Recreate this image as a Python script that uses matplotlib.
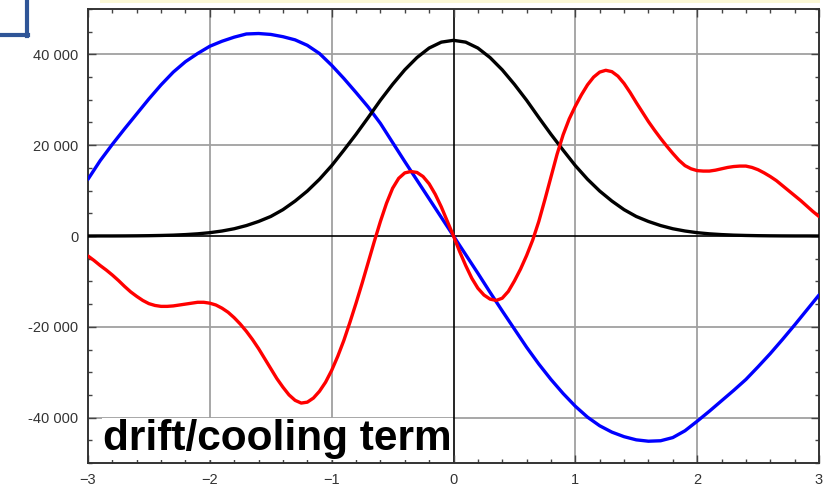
import numpy as np
import matplotlib
matplotlib.use("Agg")
import matplotlib.pyplot as plt
from matplotlib.lines import Line2D
from matplotlib.patches import Rectangle
from matplotlib.ticker import MultipleLocator, FixedLocator

# sample positions along x
xs = np.round(np.arange(-3.0, 3.001, 0.1), 1)
xs_fine = np.round(np.arange(-3.0, 3.001, 0.05), 2)

# thermal density (black), thousands
density = [0.0, 0.01, 0.01, 0.02, 0.04, 0.07, 0.12, 0.19, 0.31, 0.48,
           0.73, 1.1, 1.6, 2.3, 3.2, 4.3, 5.8, 7.7, 9.9, 12.5,
           15.5, 18.9, 22.4, 26.1, 29.9, 33.4, 36.6, 39.3, 41.4, 42.7,
           43.1,
           42.7, 41.4, 39.3, 36.6, 33.4, 29.9, 26.1, 22.4, 18.9, 15.5,
           12.5, 9.9, 7.7, 5.8, 4.3, 3.2, 2.3, 1.6, 1.1, 0.73,
           0.48, 0.31, 0.19, 0.12, 0.07, 0.04, 0.02, 0.01, 0.01, 0.0]

# restoring force (blue), thousands
force = [12.5, 16.6, 20.2, 23.6, 26.9, 30.2, 33.3, 36.1, 38.4, 40.2,
         41.8, 42.9, 43.8, 44.5, 44.6, 44.4, 43.9, 43.2, 42.0, 40.2,
         37.6, 34.7, 31.6, 28.4, 24.8, 20.6, 16.4, 12.3, 8.2, 4.1,
         0.0,
         -4.1, -8.2, -12.4, -16.5, -20.5, -24.5, -28.2, -31.6, -34.7, -37.5,
         -39.9, -41.8, -43.2, -44.2, -44.9, -45.2, -45.1, -44.4, -42.9, -40.8,
         -38.6, -36.3, -34.0, -31.6, -28.8, -25.9, -22.8, -19.6, -16.3, -13.0]

# drift/cooling term (red), thousands, sampled every 0.05
drift = [-4.4, -5.4, -6.5, -7.5, -8.6, -9.8, -11.1, -12.3, -13.3, -14.2,
         -14.9, -15.3, -15.5, -15.5, -15.4, -15.2, -15.0, -14.8, -14.6, -14.6,
         -14.8, -15.2, -15.9, -16.8, -18.0, -19.4, -21.0, -22.8, -24.8, -27.0,
         -29.2, -31.4, -33.3, -35.0, -36.2, -36.8, -36.6, -35.7, -34.2, -32.2,
         -29.6, -26.5, -23.0, -19.0, -14.8, -10.4, -5.8, -1.2, 3.2, 7.2,
         10.5, 12.7, 13.9, 14.2, 14.0, 13.1, 11.5, 9.2, 6.4, 3.2,
         0.0,
         -3.4, -6.5, -9.3, -11.5, -13.0, -13.9, -14.2, -13.7, -12.2, -9.9,
         -7.3, -4.3, -0.9, 3.2, 8.0, 13.0, 18.0, 22.3, 25.8, 28.6,
         31.1, 33.3, 35.0, 36.1, 36.5, 36.2, 35.2, 33.6, 31.6, 29.4,
         27.3, 25.2, 23.3, 21.5, 19.8, 18.2, 16.7, 15.5, 14.8, 14.4,
         14.3, 14.3, 14.5, 14.8, 15.1, 15.3, 15.4, 15.4, 15.1, 14.6,
         13.9, 13.1, 12.2, 11.1, 10.0, 8.9, 7.8, 6.6, 5.4, 4.3]

y_ticks = [-40000, -20000, 0, 20000, 40000]
y_labels = ["-40 000", "-20 000", "0", "20 000", "40 000"]
x_ticks = [-3, -2, -1, 0, 1, 2, 3]
x_labels = ["\u22123", "\u22122", "\u22121", "0", "1", "2", "3"]

fig = plt.figure(figsize=(8.31, 4.88), dpi=100)
ax = fig.add_axes([88 / 831, 1 - 463 / 488, 731 / 831, 454 / 488])

grid_col = "#a0a0a0"
for gx in [-2, -1, 1, 2]:
    ax.axvline(gx, color=grid_col, lw=1.3, zorder=1)
for gy in [-40000, -20000, 20000, 40000]:
    ax.axhline(gy, color=grid_col, lw=1.3, zorder=1)
ax.axvline(0, color="black", lw=1.2, zorder=1)
ax.axhline(0, color="black", lw=1.2, zorder=1)

style = dict(lw=2.4, zorder=3, solid_joinstyle="round", solid_capstyle="round")
ax.plot(xs, np.array(force) * 1000, color="#0000ff", **style)
ax.plot(xs, np.array(density) * 1000, color="black", **style)
ax.plot(xs_fine, np.array(drift) * 1000, color="#ff0000", **style)

ax.set_xlim(-3, 3)
ax.set_ylim(-50000, 50000)
ax.xaxis.set_major_locator(FixedLocator(x_ticks))
ax.yaxis.set_major_locator(FixedLocator(y_ticks))
ax.xaxis.set_minor_locator(MultipleLocator(0.2))
ax.yaxis.set_minor_locator(MultipleLocator(5000))
ax.set_xticklabels(x_labels)
ax.set_yticklabels(y_labels)
ax.tick_params(which="both", direction="in", top=True, right=True,
               color="#444444", width=1.0)
ax.tick_params(which="major", length=6, pad=7, labelsize=10.5,
               labelcolor="#333333")
ax.tick_params(which="minor", length=3)
for lab in ax.get_xticklabels() + ax.get_yticklabels():
    lab.set_fontfamily("Liberation Sans")
for sp in ax.spines.values():
    sp.set_color("#333333")
    sp.set_linewidth(1.4)

ax.text(15 / 731, 13 / 454, "drift/cooling term", transform=ax.transAxes,
        fontsize=30.5, fontweight="bold", family="Liberation Sans",
        color="black", ha="left", va="baseline", zorder=5,
        bbox=dict(facecolor="white", edgecolor="none", pad=1))

# slide decorations: pale header strip and corner bracket
fig.patches.append(Rectangle((100 / 831, 1 - 2.5 / 488), 720 / 831, 2.5 / 488,
                             transform=fig.transFigure, facecolor="#fbf8d6",
                             edgecolor="none"))
fig.lines.append(Line2D([27 / 831, 27 / 831], [1.0, 1 - 36 / 488],
                        transform=fig.transFigure, color="#2f5597", lw=3))
fig.lines.append(Line2D([0, 28 / 831], [1 - 35 / 488, 1 - 35 / 488],
                        transform=fig.transFigure, color="#2f5597", lw=3))

fig.savefig("out.png", dpi=100)
